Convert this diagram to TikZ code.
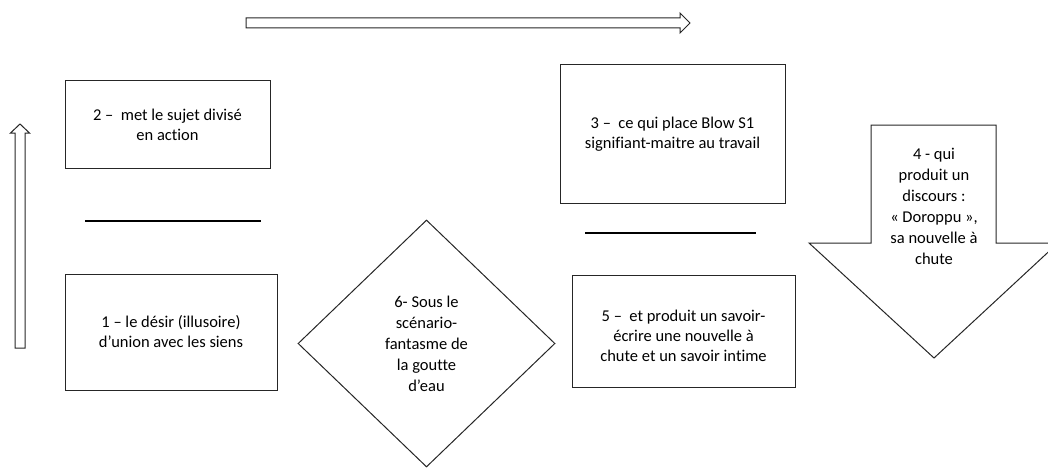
\documentclass[tikz,border=0pt]{standalone}
\usepackage{fontspec}
\setmainfont{Carlito}[Ligatures=NoCommon]
\usetikzlibrary{shapes.geometric}
\begin{document}
\begin{tikzpicture}[x=1pt,y=-1pt,
  txt/.style={align=center, font=\fontsize{16.5}{20}\selectfont, inner sep=0pt},
  box/.style={txt, draw=black!85, line width=1pt},
  bar/.style={line width=2.8pt},
  blk/.style={draw=black!85, line width=1pt, line join=miter}]
\useasboundingbox (0,0) rectangle (1048,468);
% boxes
\node[box, minimum width=205pt, minimum height=87pt] (b2) at (167.5,124.5) {2 –\ \ met le sujet divisé\\en action};
\node[box, minimum width=212pt, minimum height=116pt] (b1) at (171,332) {1 – le désir (illusoire)\\d’union avec les siens};
\node[box, minimum width=225pt, minimum height=138pt] (b3) at (672.5,134) {3 –\ \ ce qui place Blow S1\\signifiant-maitre au travail};
\node[box, minimum width=223pt, minimum height=112pt] (b5) at (683.5,331) {};
\node[txt] (t5) at (683.5,336) {5 –\ \ et produit un savoir-\\écrire une nouvelle à\\chute et un savoir intime};
\node[box, shape=diamond, minimum width=257pt, minimum height=247pt, font=\fontsize{16.5}{21}\selectfont] (d6) at (426.5,343.5) {6- Sous le\\scénario-\\fantasme de\\la goutte\\d’eau};
% bars
\coordinate (l1a) at (85,221); \coordinate (l1b) at (261,221);
\coordinate (l2a) at (585,233); \coordinate (l2b) at (756,233);
\draw[bar] (l1a) -- (l1b);
\draw[bar] (l2a) -- (l2b);
% block arrows
\draw[blk] (246,18) -- (680,18) -- (680,13) -- (690,23) -- (680,33) -- (680,28) -- (246,28) -- cycle;
\draw[blk] (15,348) -- (15,133) -- (10.5,133) -- (20,124) -- (29.5,133) -- (25,133) -- (25,348) -- cycle;
\draw[blk] (871,125) -- (996,125) -- (996,243) -- (1058,243) -- (934,358) -- (809,243) -- (871,243) -- cycle;
\node[txt, font=\fontsize{16.5}{21}\selectfont] (a4) at (934,206) {4 - qui\\produit un\\discours :\\« Doroppu »,\\sa nouvelle à\\chute};
\end{tikzpicture}
\end{document}
